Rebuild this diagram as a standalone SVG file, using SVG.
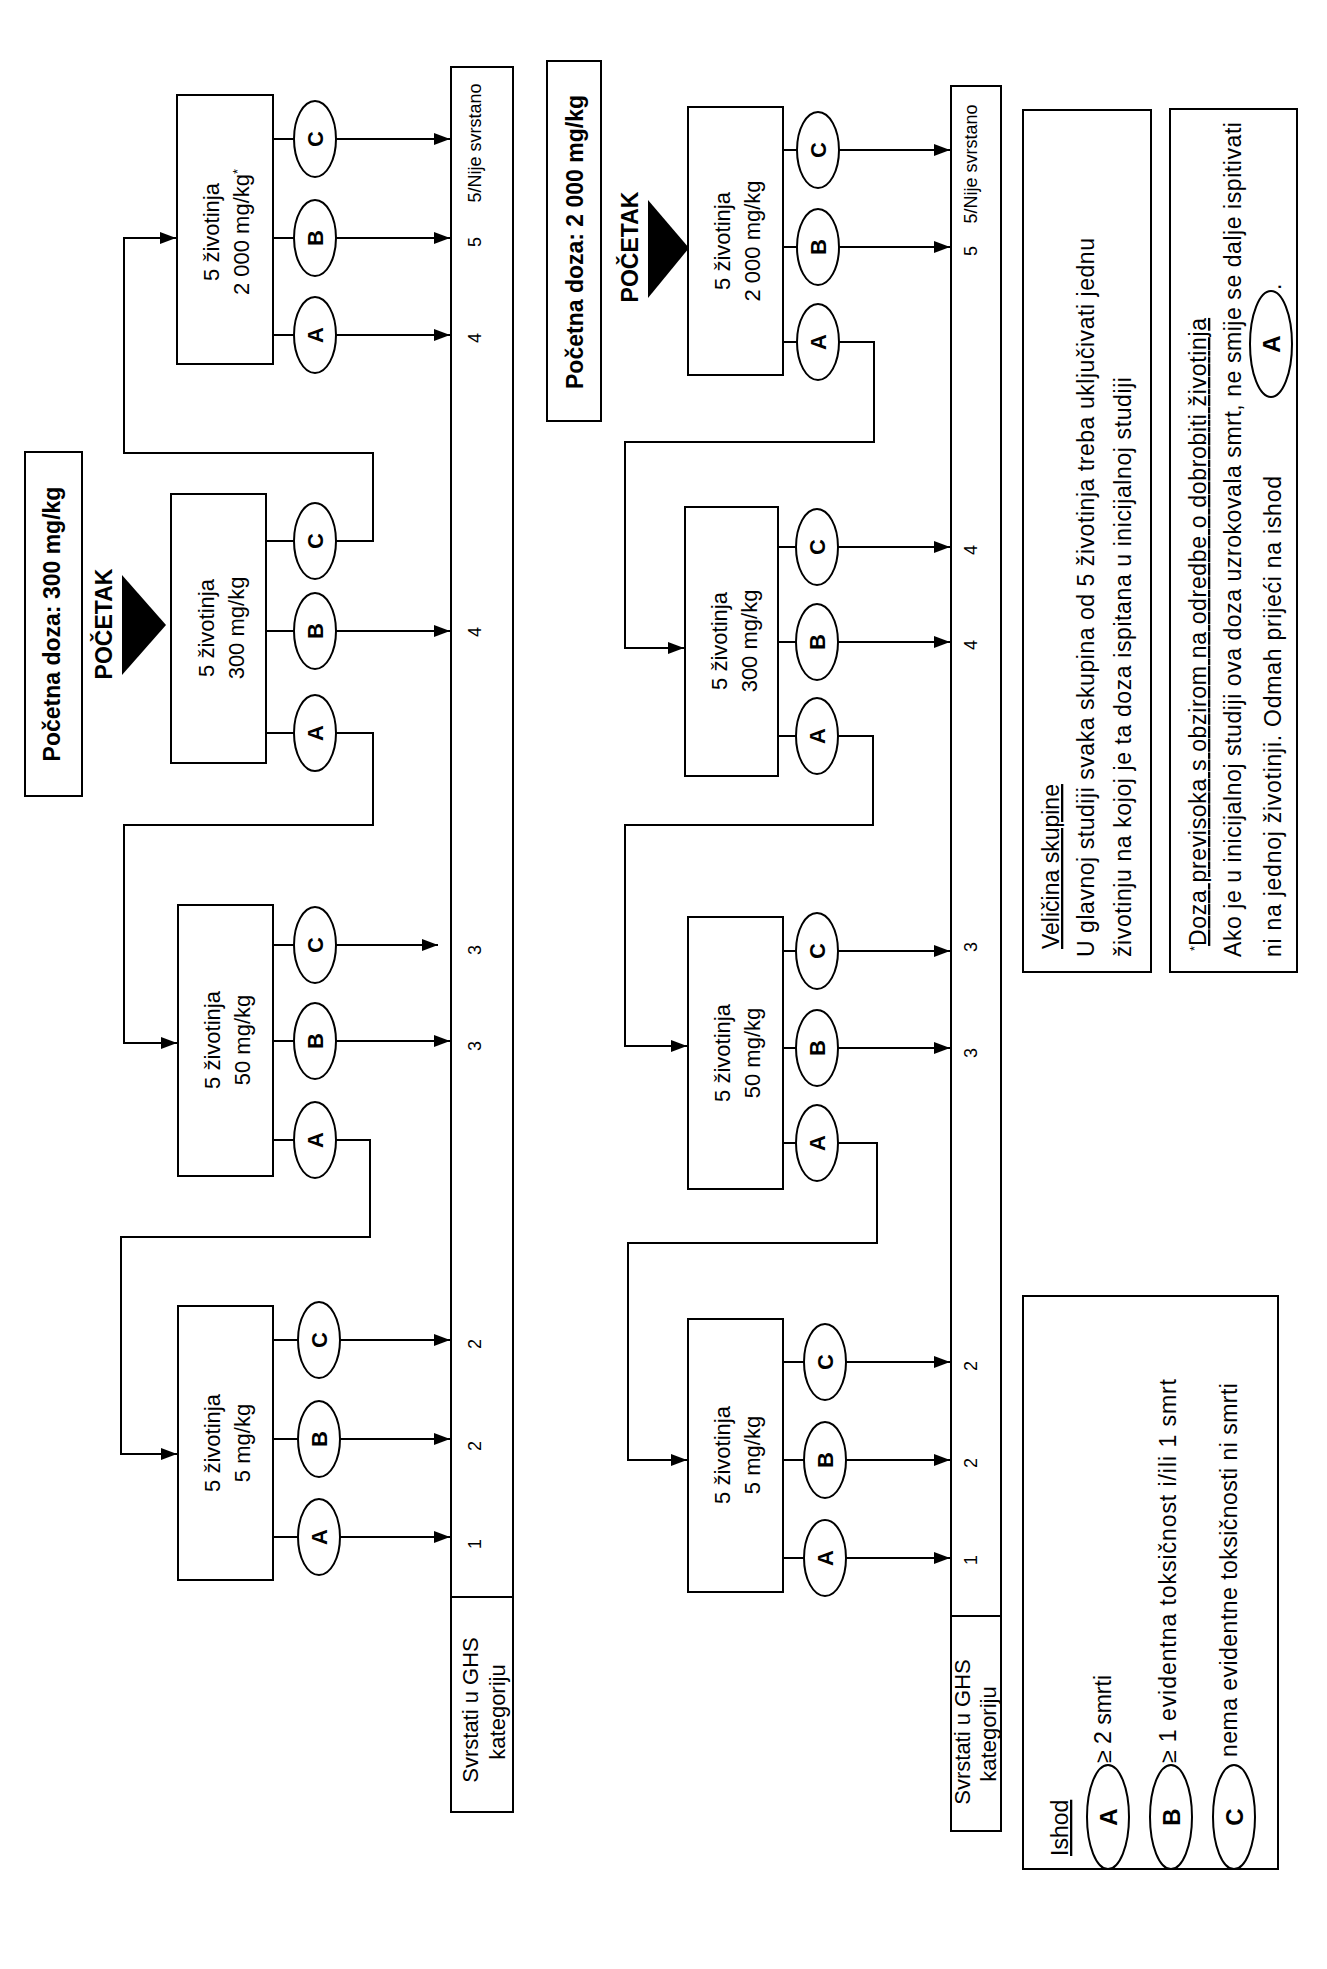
<svg xmlns="http://www.w3.org/2000/svg" width="1327" height="1969" viewBox="0 0 1327 1969">
<defs>
<style>
.bx{fill:#fff;stroke:#000;stroke-width:2}
.el{fill:#fff;stroke:#000;stroke-width:2}
.ln{fill:none;stroke:#000;stroke-width:2}
.ar{fill:none;stroke:#000;stroke-width:2;marker-end:url(#ah)}
.t{font-family:"Liberation Sans",Arial,sans-serif;fill:#000}
.bt{font-size:22px}
.lt{font-size:22px;font-weight:bold}
.hd{font-size:23px;font-weight:bold}
.num{font-size:18px}
.lg{font-size:23px}
.u{text-decoration:underline}
</style>
<marker id="ah" markerWidth="16" markerHeight="12" refX="16" refY="6" orient="auto" markerUnits="userSpaceOnUse"><path d="M0,0 L16,6 L0,12 z" fill="#000"/></marker>
</defs>
<rect x="0" y="0" width="1327" height="1969" fill="#fff"/>

<!-- ============ TOP DIAGRAM ============ -->
<g id="start-top">
<rect class="bx" x="25" y="452" width="57" height="344"/>
<text class="t hd" transform="translate(60,624) rotate(-90)" text-anchor="middle">Početna doza: 300 mg/kg</text>
<text class="t hd" transform="translate(112,624) rotate(-90)" text-anchor="middle">POČETAK</text>
<polygon points="122,575 122,675 166,625" fill="#000"/>
</g>

<g id="t2000">
<rect class="bx" x="177" y="95" width="96" height="269"/>
<text class="t bt" transform="translate(219,232) rotate(-90)" text-anchor="middle">5 životinja</text>
<text class="t bt" transform="translate(249,232) rotate(-90)" text-anchor="middle">2 000 mg/kg<tspan font-size="13" baseline-shift="super">*</tspan></text>
<ellipse class="el" cx="315" cy="139" rx="21" ry="38"/><text class="t lt" transform="translate(323,139) rotate(-90)" text-anchor="middle">C</text>
<ellipse class="el" cx="315" cy="238" rx="21" ry="38"/><text class="t lt" transform="translate(323,238) rotate(-90)" text-anchor="middle">B</text>
<ellipse class="el" cx="315" cy="335" rx="21" ry="38"/><text class="t lt" transform="translate(323,335) rotate(-90)" text-anchor="middle">A</text>
</g>

<g id="t300">
<rect class="bx" x="171" y="494" width="95" height="269"/>
<text class="t bt" transform="translate(214,628) rotate(-90)" text-anchor="middle">5 životinja</text>
<text class="t bt" transform="translate(244,628) rotate(-90)" text-anchor="middle">300 mg/kg</text>
<ellipse class="el" cx="315" cy="541" rx="21" ry="38"/><text class="t lt" transform="translate(323,541) rotate(-90)" text-anchor="middle">C</text>
<ellipse class="el" cx="315" cy="631" rx="21" ry="38"/><text class="t lt" transform="translate(323,631) rotate(-90)" text-anchor="middle">B</text>
<ellipse class="el" cx="315" cy="733" rx="21" ry="38"/><text class="t lt" transform="translate(323,733) rotate(-90)" text-anchor="middle">A</text>
</g>

<g id="t50">
<rect class="bx" x="178" y="905" width="95" height="271"/>
<text class="t bt" transform="translate(220,1040) rotate(-90)" text-anchor="middle">5 životinja</text>
<text class="t bt" transform="translate(250,1040) rotate(-90)" text-anchor="middle">50 mg/kg</text>
<ellipse class="el" cx="315" cy="945" rx="21" ry="38"/><text class="t lt" transform="translate(323,945) rotate(-90)" text-anchor="middle">C</text>
<ellipse class="el" cx="315" cy="1041" rx="21" ry="38"/><text class="t lt" transform="translate(323,1041) rotate(-90)" text-anchor="middle">B</text>
<ellipse class="el" cx="315" cy="1140" rx="21" ry="38"/><text class="t lt" transform="translate(323,1140) rotate(-90)" text-anchor="middle">A</text>
</g>

<g id="t5">
<rect class="bx" x="178" y="1306" width="95" height="274"/>
<text class="t bt" transform="translate(220,1443) rotate(-90)" text-anchor="middle">5 životinja</text>
<text class="t bt" transform="translate(250,1443) rotate(-90)" text-anchor="middle">5 mg/kg</text>
<ellipse class="el" cx="319" cy="1340" rx="21" ry="38"/><text class="t lt" transform="translate(327,1340) rotate(-90)" text-anchor="middle">C</text>
<ellipse class="el" cx="319" cy="1439" rx="21" ry="38"/><text class="t lt" transform="translate(327,1439) rotate(-90)" text-anchor="middle">B</text>
<ellipse class="el" cx="319" cy="1537" rx="21" ry="38"/><text class="t lt" transform="translate(327,1537) rotate(-90)" text-anchor="middle">A</text>
</g>

<g id="bar-top">
<rect class="bx" x="451" y="67" width="62" height="1745"/>
<line class="ln" x1="451" y1="1597" x2="513" y2="1597"/>
<text class="t num" transform="translate(481,143) rotate(-90)" text-anchor="middle">5/Nije svrstano</text>
<text class="t num" transform="translate(481,242) rotate(-90)" text-anchor="middle">5</text>
<text class="t num" transform="translate(481,338) rotate(-90)" text-anchor="middle">4</text>
<text class="t num" transform="translate(481,632) rotate(-90)" text-anchor="middle">4</text>
<text class="t num" transform="translate(481,950) rotate(-90)" text-anchor="middle">3</text>
<text class="t num" transform="translate(481,1046) rotate(-90)" text-anchor="middle">3</text>
<text class="t num" transform="translate(481,1344) rotate(-90)" text-anchor="middle">2</text>
<text class="t num" transform="translate(481,1446) rotate(-90)" text-anchor="middle">2</text>
<text class="t num" transform="translate(481,1544) rotate(-90)" text-anchor="middle">1</text>
<text class="t bt" transform="translate(478,1710) rotate(-90)" text-anchor="middle">Svrstati u GHS</text>
<text class="t bt" transform="translate(505,1712) rotate(-90)" text-anchor="middle">kategoriju</text>
</g>

<!-- ============ BOTTOM DIAGRAM ============ -->
<g id="start-bottom">
<rect class="bx" x="547" y="61" width="54" height="360"/>
<text class="t hd" transform="translate(583,242) rotate(-90)" text-anchor="middle">Početna doza: 2 000 mg/kg</text>
<text class="t hd" transform="translate(638,247) rotate(-90)" text-anchor="middle">POČETAK</text>
<polygon points="648,200 648,298 689,248" fill="#000"/>
</g>

<g id="b2000">
<rect class="bx" x="688" y="107" width="95" height="268"/>
<text class="t bt" transform="translate(730,241) rotate(-90)" text-anchor="middle">5 životinja</text>
<text class="t bt" transform="translate(760,241) rotate(-90)" text-anchor="middle">2 000 mg/kg</text>
<ellipse class="el" cx="818" cy="150" rx="21" ry="38"/><text class="t lt" transform="translate(826,150) rotate(-90)" text-anchor="middle">C</text>
<ellipse class="el" cx="818" cy="247" rx="21" ry="38"/><text class="t lt" transform="translate(826,247) rotate(-90)" text-anchor="middle">B</text>
<ellipse class="el" cx="818" cy="342" rx="21" ry="38"/><text class="t lt" transform="translate(826,342) rotate(-90)" text-anchor="middle">A</text>
</g>

<g id="b300">
<rect class="bx" x="685" y="507" width="93" height="269"/>
<text class="t bt" transform="translate(727,641) rotate(-90)" text-anchor="middle">5 životinja</text>
<text class="t bt" transform="translate(757,641) rotate(-90)" text-anchor="middle">300 mg/kg</text>
<ellipse class="el" cx="817" cy="547" rx="21" ry="38"/><text class="t lt" transform="translate(825,547) rotate(-90)" text-anchor="middle">C</text>
<ellipse class="el" cx="817" cy="642" rx="21" ry="38"/><text class="t lt" transform="translate(825,642) rotate(-90)" text-anchor="middle">B</text>
<ellipse class="el" cx="817" cy="736" rx="21" ry="38"/><text class="t lt" transform="translate(825,736) rotate(-90)" text-anchor="middle">A</text>
</g>

<g id="b50">
<rect class="bx" x="688" y="917" width="95" height="272"/>
<text class="t bt" transform="translate(730,1053) rotate(-90)" text-anchor="middle">5 životinja</text>
<text class="t bt" transform="translate(760,1053) rotate(-90)" text-anchor="middle">50 mg/kg</text>
<ellipse class="el" cx="817" cy="951" rx="21" ry="38"/><text class="t lt" transform="translate(825,951) rotate(-90)" text-anchor="middle">C</text>
<ellipse class="el" cx="817" cy="1048" rx="21" ry="38"/><text class="t lt" transform="translate(825,1048) rotate(-90)" text-anchor="middle">B</text>
<ellipse class="el" cx="817" cy="1143" rx="21" ry="38"/><text class="t lt" transform="translate(825,1143) rotate(-90)" text-anchor="middle">A</text>
</g>

<g id="b5">
<rect class="bx" x="688" y="1319" width="95" height="273"/>
<text class="t bt" transform="translate(730,1455) rotate(-90)" text-anchor="middle">5 životinja</text>
<text class="t bt" transform="translate(760,1455) rotate(-90)" text-anchor="middle">5 mg/kg</text>
<ellipse class="el" cx="825" cy="1362" rx="21" ry="38"/><text class="t lt" transform="translate(833,1362) rotate(-90)" text-anchor="middle">C</text>
<ellipse class="el" cx="825" cy="1460" rx="21" ry="38"/><text class="t lt" transform="translate(833,1460) rotate(-90)" text-anchor="middle">B</text>
<ellipse class="el" cx="825" cy="1558" rx="21" ry="38"/><text class="t lt" transform="translate(833,1558) rotate(-90)" text-anchor="middle">A</text>
</g>

<g id="bar-bottom">
<rect class="bx" x="951" y="86" width="50" height="1745"/>
<line class="ln" x1="951" y1="1616" x2="1001" y2="1616"/>
<text class="t num" transform="translate(977,164) rotate(-90)" text-anchor="middle">5/Nije svrstano</text>
<text class="t num" transform="translate(977,251) rotate(-90)" text-anchor="middle">5</text>
<text class="t num" transform="translate(977,550) rotate(-90)" text-anchor="middle">4</text>
<text class="t num" transform="translate(977,645) rotate(-90)" text-anchor="middle">4</text>
<text class="t num" transform="translate(977,947) rotate(-90)" text-anchor="middle">3</text>
<text class="t num" transform="translate(977,1053) rotate(-90)" text-anchor="middle">3</text>
<text class="t num" transform="translate(977,1366) rotate(-90)" text-anchor="middle">2</text>
<text class="t num" transform="translate(977,1463) rotate(-90)" text-anchor="middle">2</text>
<text class="t num" transform="translate(977,1560) rotate(-90)" text-anchor="middle">1</text>
<text class="t bt" transform="translate(970,1732) rotate(-90)" text-anchor="middle">Svrstati u GHS</text>
<text class="t bt" transform="translate(996,1734) rotate(-90)" text-anchor="middle">kategoriju</text>
</g>

<!-- ============ LEGENDS ============ -->
<g id="legend-velicina">
<rect class="bx" x="1023" y="110" width="128" height="862"/>
<text class="t lg u" transform="translate(1059,949) rotate(-90)">Veličina skupine</text>
<text class="t lg" transform="translate(1094,957) rotate(-90)" textLength="719" lengthAdjust="spacing">U glavnoj studiji svaka skupina od 5 životinja treba uključivati jednu</text>
<text class="t lg" transform="translate(1131,957) rotate(-90)" textLength="580" lengthAdjust="spacing">životinju na kojoj je ta doza ispitana u inicijalnoj studiji</text>
</g>

<g id="legend-doza">
<rect class="bx" x="1170" y="109" width="127" height="863"/>
<text class="t lg" transform="translate(1206,951) rotate(-90)"><tspan font-size="13" baseline-shift="super">*</tspan><tspan class="u" textLength="628" lengthAdjust="spacing">Doza previsoka s obzirom na odredbe o dobrobiti životinja</tspan></text>
<text class="t lg" transform="translate(1241,957) rotate(-90)" textLength="835" lengthAdjust="spacing">Ako je u inicijalnoj studiji ova doza uzrokovala smrt, ne smije se dalje ispitivati</text>
<text class="t lg" transform="translate(1281,957) rotate(-90)" textLength="481" lengthAdjust="spacing">ni na jednoj životinji. Odmah prijeći na ishod</text>
<ellipse class="el" cx="1271" cy="344" rx="21" ry="53"/>
<text class="t" font-size="24" font-weight="bold" transform="translate(1280,344) rotate(-90)" text-anchor="middle">A</text>
<text class="t lg" transform="translate(1281,290) rotate(-90)">.</text>
</g>

<g id="legend-ishod">
<rect class="bx" x="1023" y="1296" width="255" height="573"/>
<text class="t lg u" transform="translate(1068,1856) rotate(-90)">Ishod</text>
<ellipse class="el" cx="1108" cy="1817" rx="21" ry="52"/>
<text class="t" font-size="24" font-weight="bold" transform="translate(1117,1817) rotate(-90)" text-anchor="middle">A</text>
<ellipse class="el" cx="1171" cy="1817" rx="21" ry="52"/>
<text class="t" font-size="24" font-weight="bold" transform="translate(1180,1817) rotate(-90)" text-anchor="middle">B</text>
<ellipse class="el" cx="1234" cy="1817" rx="21" ry="52"/>
<text class="t" font-size="24" font-weight="bold" transform="translate(1243,1817) rotate(-90)" text-anchor="middle">C</text>
<text class="t lg" transform="translate(1111,1763) rotate(-90)">≥ 2 smrti</text>
<text class="t lg" transform="translate(1176,1763) rotate(-90)" textLength="384" lengthAdjust="spacing">≥ 1 evidentna toksičnost i/ili 1 smrt</text>
<text class="t lg" transform="translate(1237,1757) rotate(-90)" textLength="374" lengthAdjust="spacing">nema evidentne toksičnosti ni smrti</text>
</g>

<!-- ============ CONNECTORS ============ -->
<g id="connectors">
<path class="ln" d="M273,139H294M273,238H294M273,335H294M266,541H294M266,631H294M266,733H294M273,945H294M273,1041H294M273,1140H294M273,1340H298M273,1439H298M273,1537H298"/>
<line class="ar" x1="336" y1="139" x2="450" y2="139"/>
<line class="ar" x1="336" y1="238" x2="450" y2="238"/>
<line class="ar" x1="336" y1="335" x2="450" y2="335"/>
<line class="ar" x1="336" y1="631" x2="450" y2="631"/>
<line class="ar" x1="336" y1="945" x2="438" y2="945"/>
<line class="ar" x1="336" y1="1041" x2="450" y2="1041"/>
<line class="ar" x1="340" y1="1340" x2="450" y2="1340"/>
<line class="ar" x1="340" y1="1439" x2="450" y2="1439"/>
<line class="ar" x1="340" y1="1537" x2="450" y2="1537"/>
<path class="ar" d="M336,541H373V453H124V238H176"/>
<path class="ar" d="M336,733H373V825H124V1043H177"/>
<path class="ar" d="M336,1140H370V1237H121V1454H177"/>

<path class="ln" d="M783,150H797M783,247H797M783,342H797M778,547H796M778,642H796M778,736H796M783,951H796M783,1048H796M783,1143H796M783,1362H804M783,1460H804M783,1558H804"/>
<line class="ar" x1="839" y1="150" x2="950" y2="150"/>
<line class="ar" x1="839" y1="247" x2="950" y2="247"/>
<line class="ar" x1="838" y1="547" x2="950" y2="547"/>
<line class="ar" x1="838" y1="642" x2="950" y2="642"/>
<line class="ar" x1="838" y1="951" x2="950" y2="951"/>
<line class="ar" x1="838" y1="1048" x2="950" y2="1048"/>
<line class="ar" x1="846" y1="1362" x2="950" y2="1362"/>
<line class="ar" x1="846" y1="1460" x2="950" y2="1460"/>
<line class="ar" x1="846" y1="1558" x2="950" y2="1558"/>
<path class="ar" d="M839,342H874V442H625V648H684"/>
<path class="ar" d="M838,736H873V825H625V1046H687"/>
<path class="ar" d="M838,1143H877V1243H628V1460H687"/>
</g>
</svg>
